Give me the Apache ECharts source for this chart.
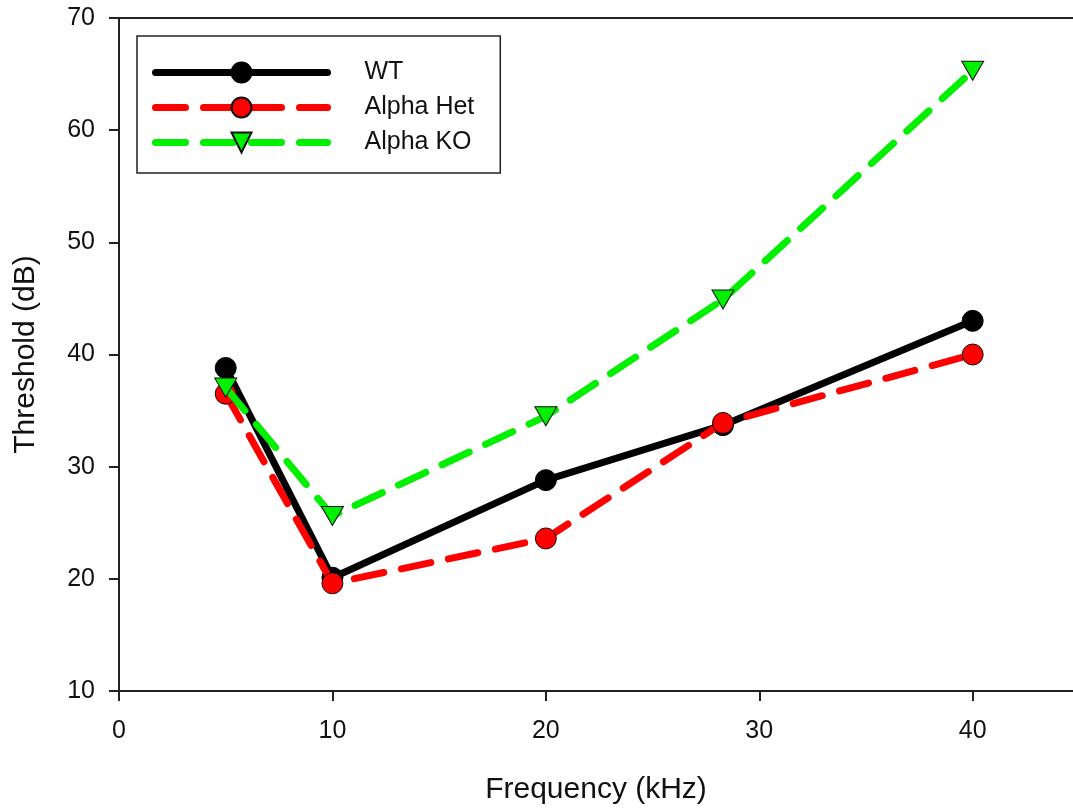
<!DOCTYPE html>
<html>
<head>
<meta charset="utf-8">
<script src="https://cdn.jsdelivr.net/npm/echarts@6/dist/echarts.min.js"></script>
<style>
html,body{margin:0;padding:0;background:#fff;}
#c{width:1073px;height:810px;}
</style>
</head>
<body>
<div id="c"></div>
<script>
var frequencies = [5, 10, 20, 28.3, 40];
var wtValues = [38.8, 20.1, 28.8, 33.7, 43.0];
var hetValues = [36.5, 19.6, 23.6, 33.9, 40.0];
var koValues = [37.05, 25.6, 34.5, 44.9, 65.3];
var seriesNames = ['WT', 'Alpha Het', 'Alpha KO'];
var xTitle = 'Frequency (kHz)';
var yTitle = 'Threshold (dB)';

function pairs(xs, ys) { return xs.map(function (x, i) { return [x, ys[i]]; }); }

var FONT = 'Liberation Sans, Arial, sans-serif';
var chart = echarts.init(document.getElementById('c'), null, { renderer: 'canvas' });
chart.setOption({
  backgroundColor: '#ffffff',
  animation: false,
  grid: { left: 119, top: 18, right: 0, height: 673, containLabel: false },
  legend: {
    orient: 'vertical',
    left: 137, top: 36,
    padding: [24, 26, 18, 15],
    itemWidth: 172, itemHeight: 25, itemGap: 10,
    borderColor: '#222', borderWidth: 1.5,
    lineStyle: { width: 7, cap: 'round' },
    textStyle: { fontFamily: FONT, fontSize: 25, color: '#111', padding: [0, 0, 0, 32] },
    data: seriesNames
  },
  xAxis: [{
    type: 'value', min: 0, max: 44.7, interval: 10,
    name: xTitle, nameLocation: 'middle', nameGap: 84,
    nameTextStyle: { fontFamily: FONT, fontSize: 30, color: '#111' },
    axisLine: { show: true, onZero: false, lineStyle: { color: '#222', width: 2 } },
    axisTick: { show: true, inside: false, length: 10, lineStyle: { color: '#222', width: 2 } },
    axisLabel: { margin: 28, fontFamily: FONT, fontSize: 25, color: '#111', showMaxLabel: false,
      formatter: function (v) { return v % 10 === 0 ? String(v) : ''; } },
    splitLine: { show: false }
  }, {
    type: 'value', position: 'top', min: 0, max: 44.7,
    axisLine: { show: true, onZero: false, lineStyle: { color: '#222', width: 2 } },
    axisTick: { show: false }, axisLabel: { show: false }, splitLine: { show: false }
  }],
  yAxis: {
    type: 'value', min: 10, max: 70, interval: 10,
    name: yTitle, nameLocation: 'middle', nameGap: 78, nameRotate: 90,
    nameTextStyle: { fontFamily: FONT, fontSize: 30, color: '#111' },
    axisLine: { show: true, onZero: false, lineStyle: { color: '#222', width: 2 } },
    axisTick: { show: true, inside: false, length: 10, lineStyle: { color: '#222', width: 2 } },
    axisLabel: { margin: 24, fontFamily: FONT, fontSize: 25, color: '#111' },
    splitLine: { show: false }
  },
  series: [{
    name: seriesNames[0], type: 'line', data: pairs(frequencies, wtValues),
    symbol: 'circle', symbolSize: 21,
    lineStyle: { color: '#000', width: 7, cap: 'round', join: 'round' },
    itemStyle: { color: '#000', borderColor: '#000', borderWidth: 1 },
    z: 2
  }, {
    name: seriesNames[1], type: 'line', data: pairs(frequencies, hetValues),
    symbol: 'circle', symbolSize: 21,
    lineStyle: { color: '#ff0000', width: 7, type: [30, 18], cap: 'round' },
    itemStyle: { color: '#ff0000', borderColor: '#111', borderWidth: 1 },
    z: 3
  }, {
    name: seriesNames[2], type: 'line', data: pairs(frequencies, koValues),
    symbol: 'triangle', symbolSize: [22, 19], symbolRotate: 180,
    lineStyle: { color: '#00f000', width: 7, type: [30, 18], cap: 'round' },
    itemStyle: { color: '#00f000', borderColor: '#111', borderWidth: 1 },
    z: 4
  }]
});
</script>
</body>
</html>
